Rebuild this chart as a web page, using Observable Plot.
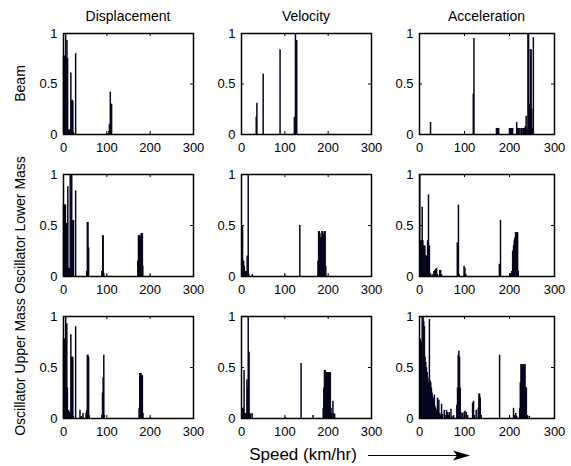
<!DOCTYPE html>
<html><head><meta charset="utf-8">
<script src="https://cdn.jsdelivr.net/npm/d3@7"></script>
<script src="https://cdn.jsdelivr.net/npm/@observablehq/plot@0.6"></script>
<style>
body{margin:0;background:#fff;}
#chart{position:relative;width:571px;height:466px;overflow:hidden;background:#fff;font-family:"Liberation Sans",Arial,sans-serif;}
#chart svg{position:absolute;}
</style></head><body><div id="chart"></div>
<script>
// ---- text ----
const columnTitles = ["Displacement", "Velocity", "Acceleration"];
const rowTitles = ["Beam", "Oscillator Lower Mass", "Oscillator Upper Mass"];
const xAxisTitle = "Speed (km/hr)";
const speedTicks = [0, 100, 200, 300];
const valueTicks = [0, 0.5, 1];

// ---- data: [speed (km/hr), normalised response] ----
const beamDisplacement = [[0,0.77],[1.5,0.77],[3,0.78],[5,1],[6,0.77],[8,0.93],[9.5,0.75],[11,0.05],[13,0.04],[15,0.05],[17,0.61],[18.5,0.33],[20,0.34],[21.5,0.33],[23,0.02],[28,0.8],[100,0.01],[105,0.03],[106,0.1],[108,0.42],[110,0.3],[111,0.3]];
const beamVelocity = [[34,0.17],[35.5,0.31],[50,0.6],[89,0.84],[122,0.17],[124.5,1],[127.5,0.93]];
const beamAcceleration = [[24.5,0.12],[119.5,0.4],[121,0.95],[171,0.06],[173,0.06],[176,0.06],[200,0.06],[202,0.06],[205,0.06],[207,0.06],[216,0.12],[218,0.06],[220,0.06],[223,0.06],[226,0.06],[228,0.06],[231,0.06],[233,0.06],[235,0.08],[237,0.18],[239,0.05],[241,1],[242.5,1],[244,0.25],[245,0.3],[246.5,0.84],[248,0.84],[249.5,0.25],[251,0.06],[253,0.96]];

const lowerDisplacement = [[0,0.7],[1.5,0.7],[3,0.7],[4.5,0.7],[6,0.52],[7.5,0.52],[9,0.52],[10,0.88],[11,0.08],[12.5,0.08],[14,0.08],[15.5,1],[19,1],[20,0.55],[21.5,0.55],[23,0.55],[28,0.84],[53.5,0.05],[55,0.53],[56.5,0.53],[58,0.28],[88.5,0.05],[90.5,0.4],[91.5,0.4],[93,0.03],[100,0.01],[171.5,0.15],[173,0.4],[174.5,0.4],[176,0.4],[177.5,0.38],[179,0.42],[180.5,0.42],[182,0.42],[183,0.1],[200,0.01]];
const lowerVelocity = [[1,0.05],[2.5,0.5],[3.5,0.15],[5,0.15],[6.5,0.1],[8,0.05],[9.5,0.05],[11,0.05],[13,0.2],[15.5,1],[17,0.02],[25,0.02],[100,0.01],[134.5,0.5],[176.5,0.15],[178,0.44],[179.5,0.44],[181,0.42],[182.5,0.38],[184,0.38],[185.5,0.44],[187,0.44],[188.5,0.4],[190,0.42],[191.5,0.44],[193,0.44],[194.5,0.1]];
const lowerAcceleration = [[0.5,1],[2,0.35],[3.5,0.35],[5,0.35],[6,0.68],[7.5,0.35],[9,0.3],[10.5,0.3],[12,0.3],[13.5,0.2],[15,0.2],[16.5,0.2],[18,0.35],[20,0.8],[22,0.3],[23.5,0.03],[25,0.02],[30,0.02],[32,0.05],[34,0.06],[36,0.07],[38,0.08],[40,0.02],[45,0.06],[47,0.06],[49,0.02],[84,0.33],[86.5,0.7],[88,0.02],[99,0.1],[101,0.08],[103,0.02],[177.5,0.12],[180,0.55],[203,0.03],[205,0.05],[207,0.25],[209,0.3],[210.5,0.35],[212,0.38],[213.5,0.43],[215,0.43],[216.5,0.43],[218,0.43],[219.5,0.05]];

const upperDisplacement = [[0,0.78],[1.5,0.78],[3,0.78],[5,1],[6,0.78],[7.7,0.93],[9,0.3],[10.5,0.06],[12,0.08],[13.5,0.06],[15,0.05],[17,0.82],[18.5,0.6],[20,0.6],[21.5,0.6],[23,0.02],[28,0.9],[38,0.08],[41,0.02],[45,0.05],[52,0.05],[53.5,0.08],[55,0.62],[56.5,0.62],[58,0.6],[59,0.03],[88.5,0.03],[90,0.25],[91.5,0.4],[93,0.62],[94,0.03],[174.5,0.1],[176,0.44],[177.5,0.44],[179,0.44],[180.5,0.42],[182,0.42],[183.5,0.05],[200,0.01]];
const upperVelocity = [[1.5,0.1],[3,0.1],[4.5,0.08],[6,0.47],[7.5,0.05],[9,0.05],[10.5,0.05],[12.5,0.38],[14,0.3],[15.5,1],[17.5,0.65],[19,0.05],[21,0.04],[24.5,0.05],[101.5,0.01],[137.5,0.54],[165,0.03],[188.5,0.1],[190,0.3],[191.5,0.47],[193,0.47],[194.5,0.45],[196,0.45],[197.5,0.44],[199,0.45],[200.5,0.45],[202,0.45],[203.5,0.44],[205,0.45],[206.5,0.1],[208,0.05],[211,0.17],[213,0.05],[215,0.04]];
const upperAcceleration = [[0.5,0.7],[2,0.78],[4,0.75],[6,1],[8,1],[9.5,0.95],[11,0.9],[12.5,0.6],[14,0.55],[15.5,0.5],[17,0.45],[18.5,0.4],[20,0.35],[22,0.97],[23.5,0.37],[25,0.35],[26.5,0.3],[28,0.25],[29.5,0.2],[31,0.2],[33,0.23],[34.5,0.12],[36,0.1],[38,0.08],[40,0.2],[41.5,0.12],[43,0.18],[45,0.05],[47,0.03],[49,0.14],[51,0.04],[55,0.08],[57,0.03],[60,0.08],[62,0.06],[64,0.03],[66,0.06],[70,0.09],[72,0.02],[76,0.03],[83,0.13],[84.5,0.3],[86,0.62],[87.5,0.66],[89,0.6],[90.5,0.3],[92,0.06],[95,0.05],[99,0.06],[101,0.07],[104,0.06],[107,0.03],[118,0.15],[120,0.17],[122,0.03],[126,0.08],[130.5,0.1],[132,0.24],[133.5,0.24],[135,0.2],[137,0.03],[178,0.62],[200,0.01],[209,0.1],[211,0.03],[214,0.05],[216,0.02],[222.5,0.1],[224,0.35],[225.5,0.53],[227,0.53],[228.5,0.5],[230,0.53],[231.5,0.53],[233,0.52],[234.5,0.53],[236,0.3],[237.5,0.3],[240,0.03],[244,0.02]];

const grid = [
  [beamDisplacement, beamVelocity, beamAcceleration],
  [lowerDisplacement, lowerVelocity, lowerAcceleration],
  [upperDisplacement, upperVelocity, upperAcceleration]
];

// ---- layout ----
const FONT = '"Liberation Sans", Arial, sans-serif';
const barColor = "#06061e";
const colBoxes = [{left:63,width:130},{left:241,width:130},{left:419,width:135}];
const rowBoxes = [{top:33,height:101},{top:174,height:102},{top:316,height:102}];
const M = {left:32,right:14,top:8,bottom:24};
const chart = document.getElementById("chart");

rowBoxes.forEach((rb, i) => colBoxes.forEach((cb, j) => {
  const data = grid[i][j];
  const svg = Plot.plot({
    width: cb.width + M.left + M.right,
    height: rb.height + M.top + M.bottom,
    marginLeft: M.left, marginRight: M.right, marginTop: M.top, marginBottom: M.bottom,
    style: {background: "transparent", overflow: "visible", fontFamily: FONT, fontSize: "13px", color: "black"},
    x: {domain: [0, 300]},
    y: {domain: [0, 1]},
    marks: [
      Plot.ruleX(data, {x: d => d[0], y: d => d[1], stroke: barColor, strokeWidth: 1.5}),
      Plot.ruleX(speedTicks, {x: d => d, insetTop: rb.height - 3, stroke: "black"}),
      Plot.ruleX(speedTicks, {x: d => d, insetBottom: rb.height - 3, stroke: "black"}),
      Plot.ruleY(valueTicks, {y: d => d, insetRight: cb.width - 3, stroke: "black"}),
      Plot.ruleY(valueTicks, {y: d => d, insetLeft: cb.width - 3, stroke: "black"}),
      Plot.frame({stroke: "black", strokeWidth: 1.5}),
      Plot.axisX({ticks: speedTicks, tickSize: 0, tickPadding: 8, label: null, fill: "black"}),
      Plot.axisY({ticks: valueTicks, tickSize: 0, tickPadding: 6, label: null, fill: "black", tickFormat: d => String(d)})
    ]
  });
  svg.style.left = (cb.left - M.left) + "px";
  svg.style.top = (rb.top - M.top) + "px";
  chart.appendChild(svg);
}));

// ---- titles, row labels, x label and arrow ----
const overlay = d3.create("svg")
  .attr("width", 571).attr("height", 466)
  .style("left", "0px").style("top", "0px")
  .attr("font-family", FONT).attr("fill", "black");

overlay.selectAll("text.col").data(columnTitles).join("text")
  .attr("class", "col")
  .attr("x", (d, j) => colBoxes[j].left + colBoxes[j].width / 2)
  .attr("y", 21)
  .attr("text-anchor", "middle").attr("font-size", 14)
  .text(d => d);

overlay.selectAll("text.row").data(rowTitles).join("text")
  .attr("class", "row")
  .attr("transform", (d, i) => `translate(25,${rowBoxes[i].top + rowBoxes[i].height / 2}) rotate(-90)`)
  .attr("text-anchor", "middle").attr("font-size", 14)
  .text(d => d);

overlay.append("text")
  .attr("x", 303).attr("y", 460)
  .attr("text-anchor", "middle").attr("font-size", 17)
  .text(xAxisTitle);

overlay.append("line")
  .attr("x1", 368).attr("y1", 455.5).attr("x2", 462).attr("y2", 455.5)
  .attr("stroke", "black").attr("stroke-width", 1);
overlay.append("path")
  .attr("d", "M470,455.5L453,450.5L457,455.5L453,460.5Z")
  .attr("fill", "black");

chart.appendChild(overlay.node());
</script>
</body></html>
